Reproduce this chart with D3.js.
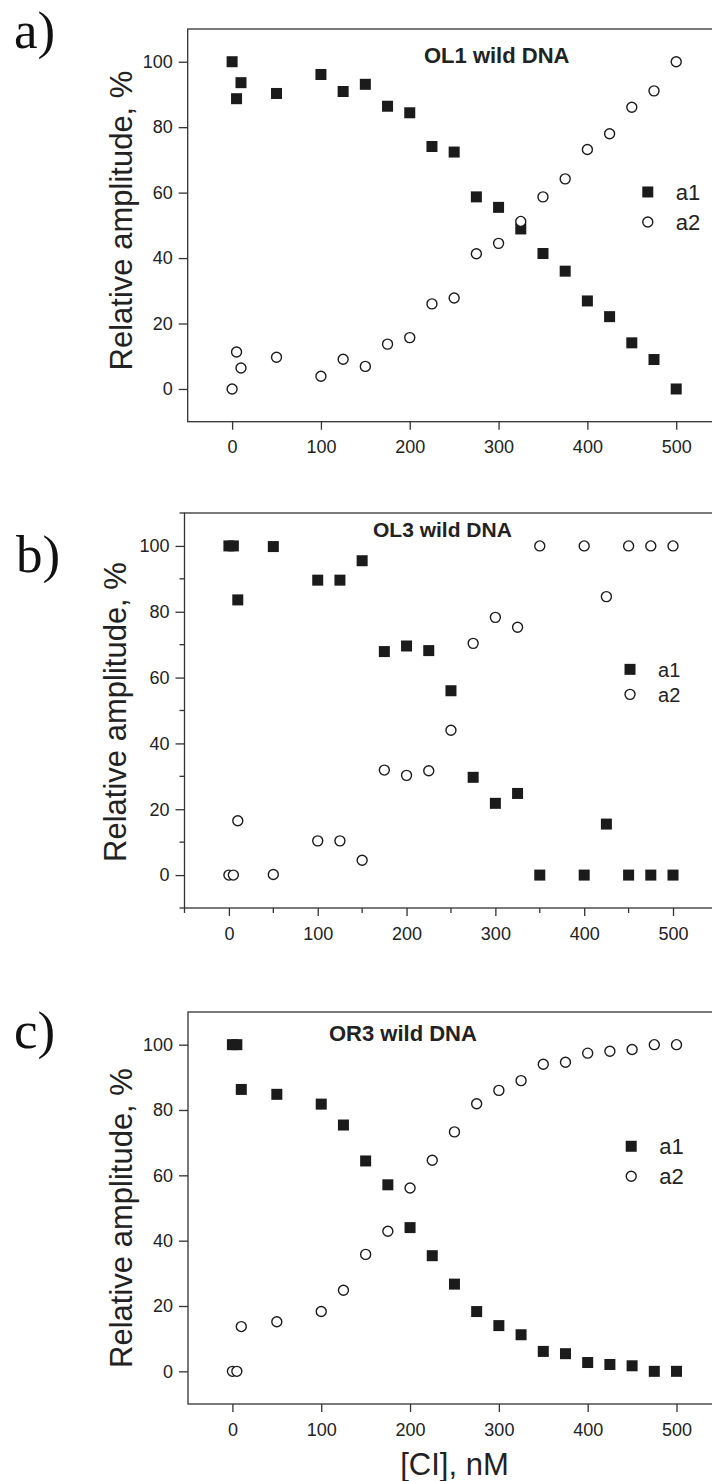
<!DOCTYPE html>
<meta charset="utf-8">
<style>
    body {
        margin: 0;
        background: #fff;
    }
    svg {
        display: block;
    }
    .tick text {
        font: 18px "Liberation Sans", Arial, sans-serif;
        fill: #222;
    }
    .tick line,
    .minor {
        stroke: #333;
        stroke-width: 1.3;
    }
    .frame {
        fill: none;
        stroke: #333;
        stroke-width: 1.3;
    }
    .sq {
        fill: #1b1b1b;
    }
    .ci {
        fill: #fff;
        stroke: #1b1b1b;
        stroke-width: 1.4;
    }
    .tag {
        font-family: "Liberation Serif", "Times New Roman", serif;
        font-size: 53px;
        fill: #111;
    }
    .title {
        font: bold 22px "Liberation Sans", Arial, sans-serif;
        fill: #222;
    }
    .ylab, .xlab {
        font: 31px "Liberation Sans", Arial, sans-serif;
        fill: #222;
    }
    .leg {
        font-family: "Liberation Sans", Arial, sans-serif;
        fill: #222;
    }
</style>
<body>
<script src="https://d3js.org/d3.v7.min.js"></script>
<script>
    // concentrations of CI, nM
    var concA = [0, 5, 10, 50, 100, 125, 150, 175, 200, 225, 250, 275, 300, 325, 350, 375, 400, 425, 450, 475, 500];
    var concB = [0, 5, 10, 50, 100, 125, 150, 175, 200, 225, 250, 275, 300, 325, 350, 400, 425, 450, 475, 500];

    // relative amplitudes, %
    var ol1_a1 = [100, 88.7, 93.6, 90.3, 96.1, 90.9, 93.1, 86.4, 84.4, 74.1, 72.4, 58.7, 55.5, 48.9, 41.4, 36.0, 26.9, 22.1, 14.1, 9.0, 0];
    var ol1_a2 = [0, 11.3, 6.4, 9.7, 3.9, 9.1, 6.9, 13.7, 15.7, 26.0, 27.8, 41.3, 44.5, 51.2, 58.7, 64.2, 73.2, 78.0, 86.1, 91.1, 100];

    var ol3_a1 = [100, 100, 83.6, 99.8, 89.6, 89.6, 95.5, 67.9, 69.6, 68.2, 56.0, 29.7, 21.8, 24.8, 0, 0, 15.5, 0, 0, 0];
    var ol3_a2 = [0, 0, 16.5, 0.2, 10.4, 10.4, 4.5, 31.9, 30.3, 31.7, 44.0, 70.4, 78.3, 75.3, 100, 100, 84.6, 100, 100, 100];

    var or3_a1 = [100, 100, 86.3, 84.8, 81.8, 75.4, 64.4, 57.1, 44.0, 35.4, 26.7, 18.3, 14.0, 11.2, 6.1, 5.4, 2.7, 2.1, 1.7, 0, 0];
    var or3_a2 = [0, 0, 13.7, 15.2, 18.3, 24.8, 35.8, 42.9, 56.1, 64.6, 73.3, 81.9, 86.0, 89.0, 94.0, 94.6, 97.4, 98.0, 98.5, 100, 100];

    var xTicks = [0, 100, 200, 300, 400, 500];
    var yTicks = [0, 20, 40, 60, 80, 100];
    var xMinor = [-50, 50, 150, 250, 350, 450, 550];
    var yMinor = [-10, 10, 30, 50, 70, 90, 110];
    var xDomain = [-50, 550];
    var yDomain = [-10, 110];
    var seriesNames = ["a1", "a2"];

    var panels = [
        {tag: "a)", title: "OL1 wild DNA", conc: concA, a1: ol1_a1, a2: ol1_a2,
            left: 187.7, top: 29, bottom: 421.7, minor: false,
            tagX: 14, tagY: 48, titleX: 424, titleY: 63, titleSize: 22,
            ylabX: 132, ylabY: 220.5, legX: 468, legY: 60.2, legGap: 30, legSize: 22},
        {tag: "b)", title: "OL3 wild DNA", conc: concB, a1: ol3_a1, a2: ol3_a2,
            left: 184.5, top: 513, bottom: 908, minor: true,
            tagX: 16, tagY: 572, titleX: 373, titleY: 537, titleSize: 21,
            ylabX: 126, ylabY: 712, legX: 451.6, legY: 62.5, legGap: 25, legSize: 20},
        {tag: "c)", title: "OR3 wild DNA", conc: concA, a1: or3_a1, a2: or3_a2,
            left: 188, top: 1012, bottom: 1404, minor: false,
            tagX: 14, tagY: 1048, titleX: 329, titleY: 1041, titleSize: 22,
            ylabX: 131.7, ylabY: 1218, legX: 449, legY: 68.9, legGap: 30, legSize: 22,
            xlab: "[CI], nM"}
    ];

    var width = 712, height = 1481;
    var unitPx = 0.8882; // px per nM, same for all panels

    var svg = d3.select("body").append("svg")
        .attr("width", width)
        .attr("height", height);

    panels.forEach(function(p) {
        var right = p.left + (xDomain[1] - xDomain[0]) * unitPx;
        var x = d3.scaleLinear().domain(xDomain).range([p.left, right]);
        var y = d3.scaleLinear().domain(yDomain).range([p.bottom, p.top]);
        var g = svg.append("g");

        g.append("rect")
            .attr("class", "frame")
            .attr("x", p.left)
            .attr("y", p.top)
            .attr("width", right - p.left)
            .attr("height", p.bottom - p.top);

        g.append("g")
            .attr("transform", "translate(0," + p.bottom + ")")
            .call(d3.axisBottom(x).tickValues(xTicks).tickSize(8).tickPadding(11).tickSizeOuter(0))
            .call(function(a) { a.select(".domain").remove(); });

        g.append("g")
            .attr("transform", "translate(" + p.left + ",0)")
            .call(d3.axisLeft(y).tickValues(yTicks).tickSize(9).tickPadding(6).tickSizeOuter(0))
            .call(function(a) { a.select(".domain").remove(); });

        if (p.minor) {
            g.selectAll(".mx").data(xMinor).enter().append("line")
                .attr("class", "minor")
                .attr("x1", function(d) { return x(d); })
                .attr("x2", function(d) { return x(d); })
                .attr("y1", p.bottom)
                .attr("y2", p.bottom + 5);
            g.selectAll(".my").data(yMinor).enter().append("line")
                .attr("class", "minor")
                .attr("y1", function(d) { return y(d); })
                .attr("y2", function(d) { return y(d); })
                .attr("x1", p.left)
                .attr("x2", p.left - 5);
        }

        // a1 squares
        g.selectAll(".sq").data(p.conc).enter().append("rect")
            .attr("class", "sq")
            .attr("x", function(d) { return x(d) - 5.5; })
            .attr("y", function(d, i) { return y(p.a1[i]) - 5.5; })
            .attr("width", 11)
            .attr("height", 11);

        // a2 circles
        g.selectAll(".ci").data(p.conc).enter().append("circle")
            .attr("class", "ci")
            .attr("cx", function(d) { return x(d); })
            .attr("cy", function(d, i) { return y(p.a2[i]); })
            .attr("r", 5);

        // legend
        var lx = x(p.legX), ly = y(p.legY);
        g.append("rect").attr("class", "sq")
            .attr("x", lx - 5.5).attr("y", ly - 5.5)
            .attr("width", 11).attr("height", 11);
        g.append("circle").attr("class", "ci")
            .attr("cx", lx).attr("cy", ly + p.legGap).attr("r", 5);
        seriesNames.forEach(function(s, i) {
            g.append("text").attr("class", "leg")
                .attr("x", lx + 28)
                .attr("y", ly + i * p.legGap + 7.6)
                .style("font-size", p.legSize + "px")
                .text(s);
        });

        g.append("text").attr("class", "title")
            .attr("x", p.titleX).attr("y", p.titleY)
            .style("font-size", p.titleSize + "px")
            .text(p.title);

        g.append("text").attr("class", "tag")
            .attr("x", p.tagX).attr("y", p.tagY)
            .text(p.tag);

        g.append("text").attr("class", "ylab")
            .attr("transform", "translate(" + p.ylabX + "," + p.ylabY + ") rotate(-90)")
            .style("text-anchor", "middle")
            .text("Relative amplitude, %");

        if (p.xlab) {
            g.append("text").attr("class", "xlab")
                .attr("x", x(250)).attr("y", 1475)
                .style("text-anchor", "middle")
                .text(p.xlab);
        }
    });
</script>
